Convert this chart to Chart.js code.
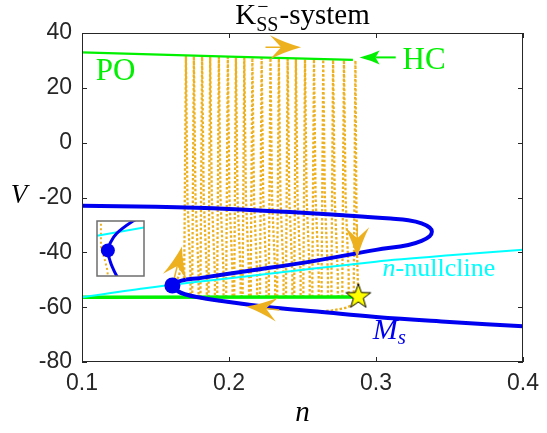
<!DOCTYPE html>
<html lang="en">
<head>
<meta charset="UTF-8">
<title>KSS- system</title>
<script src="https://cdn.jsdelivr.net/npm/chart.js"></script>
<style>
  html, body { margin: 0; padding: 0; background: #fff; }
  #wrap { position: relative; width: 547px; height: 433px; }
  #main { position: absolute; left: 0; top: 0; }
  #inset { position: absolute; left: 96px; top: 220px; }
</style>
</head>
<body>
<div id="wrap">
  <canvas id="main" width="547" height="433"></canvas>
  <canvas id="inset" width="49" height="57"></canvas>
</div>
<script>
// ---- data ----
const xTicks = [0.1, 0.2, 0.3, 0.4];
const yTicks = [-80, -60, -40, -20, 0, 20, 40];

// M_s curve (upper branch -> fold -> middle branch -> knee -> lower branch)
const msN = [0.100, 0.150, 0.200, 0.250, 0.290, 0.310, 0.322, 0.331, 0.3365, 0.338, 0.3365, 0.331, 0.322, 0.300,
             0.2574, 0.2126, 0.1800, 0.1677, 0.1615, 0.1650, 0.1700, 0.1800, 0.1902, 0.2126, 0.2349, 0.2600, 0.3000, 0.3500, 0.4000];
const msV = [-23.0, -23.4, -24.2, -25.6, -26.9, -27.7, -28.3, -29.4, -31.0, -32.5, -34.1, -35.8, -37.3, -39.1,
             -43.2, -46.8, -49.4, -50.3, -52.1, -54.1, -55.3, -56.5, -57.4, -59.0, -60.4, -61.6, -63.6, -65.4, -67.0];

// n-nullcline
const nullN = [0.100, 0.1454, 0.2126, 0.300, 0.350, 0.400];
const nullV = [-56.4, -52.9, -48.7, -43.4, -41.1, -39.1];

// periodic orbit max / min
const poMaxN = [0.100, 0.200, 0.2843];
const poMaxV = [32.9, 31.4, 30.2];
const poMinN = [0.100, 0.288];
const poMinV = [-56.4, -56.3];

// equilibrium (saddle-node) and star
const eqN = [0.1615];
const eqV = [-52.1];
const starN = [0.2880];
const starV = [-56.2];

// bursting trajectory: one entry per spike
const spikeN = [0.1707, 0.1761, 0.1817, 0.1872, 0.1931, 0.1992, 0.2047, 0.2104, 0.2159, 0.2222,
                0.2282, 0.2339, 0.2399, 0.2455, 0.2517, 0.2578, 0.2641, 0.2708, 0.2782, 0.2860];
const topV   = [31.6, 31.5, 31.4, 31.4, 31.3, 31.2, 31.1, 31.0, 30.9, 30.8,
                30.8, 30.7, 30.6, 30.5, 30.4, 30.4, 30.3, 30.2, 30.1, 30.0];
const upN    = [0.1695, 0.1750, 0.1806, 0.1861, 0.1920, 0.1981, 0.2036, 0.2093, 0.2148, 0.2211,
                0.2271, 0.2328, 0.2388, 0.2444, 0.2506, 0.2567, 0.2630, 0.2697, 0.2771, 0.2849];
const midN   = [0.1717, 0.1772, 0.1828, 0.1883, 0.1942, 0.2003, 0.2058, 0.2115, 0.2170, 0.2233,
                0.2293, 0.2350, 0.2410, 0.2466, 0.2528, 0.2589, 0.2652, 0.2719, 0.2793, 0.2866];
const downN  = [0.1738, 0.1793, 0.1849, 0.1904, 0.1963, 0.2024, 0.2079, 0.2136, 0.2191, 0.2254,
                0.2314, 0.2371, 0.2431, 0.2487, 0.2549, 0.2610, 0.2673, 0.2740, 0.2814, 0.2872];
const footV = -56.0, threshV = -50.0, midV = -20.0, bendV = -48.0;
// quiet phase along the lower branch before the first spike
const headN = [0.2550, 0.2349, 0.2126, 0.1902, 0.1800, 0.1700, 0.1650, 0.1625, 0.1660, 0.1685];
const headV = [-61.5, -60.6, -59.2, -57.6, -56.7, -55.4, -54.2, -52.6, -48.5, -42.0];
// drop after the last spike
const tailN = [0.2872, 0.2876, 0.2880, 0.2860, 0.2800, 0.2700, 0.2600, 0.2550];
const tailV = [-42.0, -50.0, -56.0, -58.6, -60.2, -61.2, -61.7, -61.5];

// direction arrows (tail -> tip)
const arrFromN = [0.2248, 0.2872, 0.1626, 0.2342];
const arrFromV = [34.8, -30.0, -49.8, -61.0];
const arrToN   = [0.2490, 0.2872, 0.1680, 0.2116];
const arrToV   = [34.8, -42.2, -37.9, -59.8];

// inset (zoom around the knee)
const inMsN = [0.1668, 0.16515, 0.16236, 0.16124, 0.16085, 0.16124, 0.16179, 0.16236, 0.1628];
const inMsV = [-48.5, -49.0, -50.35, -51.42, -52.21, -53.39, -54.28, -55.0, -55.5];
const inNullN = [0.159, 0.167];
const inNullV = [-50.61, -49.71];
const inTrajN = [0.15967, 0.15967, 0.16006, 0.1604, 0.16073, 0.1609];
const inTrajV = [-48.8, -51.79, -52.68, -53.39, -54.28, -55.2];
const inEqN = [0.16085];
const inEqV = [-52.21];

const BLUE = 'rgb(0,0,240)';
const CYAN = '#00ffff';
const GREEN = '#00f000';
const ORANGE = '#EDB120';
const AXIS = '#262626';

function pts(ns, vs) { return ns.map((n, i) => ({ x: n, y: vs[i] })); }

const trajPts = pts(headN, headV);
for (let k = 0; k < spikeN.length; k++) {
    if (k > 0) trajPts.push({ x: upN[k], y: footV });
    trajPts.push({ x: upN[k], y: threshV });
    trajPts.push({ x: spikeN[k], y: topV[k] });
    trajPts.push({ x: midN[k], y: midV });
    if (k < spikeN.length - 1) {
        trajPts.push({ x: downN[k], y: bendV });
        trajPts.push({ x: downN[k], y: footV });
    }
}
tailN.forEach((n, i) => trajPts.push({ x: n, y: tailV[i] }));

function makeStar(r) {
    const c = document.createElement('canvas');
    const s = Math.ceil(2 * r + 4);
    c.width = s; c.height = s;
    const g = c.getContext('2d');
    g.translate(s / 2, s / 2);
    g.beginPath();
    for (let i = 0; i < 10; i++) {
        const rr = i % 2 ? r * 0.4 : r;
        const a = -Math.PI / 2 + i * Math.PI / 5;
        g.lineTo(rr * Math.cos(a), rr * Math.sin(a));
    }
    g.closePath();
    g.fillStyle = '#ffff00'; g.fill();
    g.lineWidth = 1; g.strokeStyle = '#000'; g.stroke();
    return c;
}

function drawArrow(ctx, fx, fy, tx, ty, L, W, back, color, shaftW) {
    const ang = Math.atan2(ty - fy, tx - fx);
    const len = Math.hypot(tx - fx, ty - fy);
    ctx.save();
    ctx.translate(tx, ty);
    ctx.rotate(ang);
    ctx.strokeStyle = color;
    ctx.lineWidth = shaftW;
    ctx.beginPath(); ctx.moveTo(-len, 0); ctx.lineTo(-L + back, 0); ctx.stroke();
    ctx.fillStyle = color;
    ctx.beginPath();
    ctx.moveTo(0, 0);
    ctx.quadraticCurveTo(-L * 0.55, -W * 0.4, -L, -W);
    ctx.lineTo(-L + back, 0);
    ctx.lineTo(-L, W);
    ctx.quadraticCurveTo(-L * 0.55, W * 0.4, 0, 0);
    ctx.fill();
    ctx.restore();
}

function text(ctx, s, x, y, font, color) {
    ctx.font = font;
    ctx.fillStyle = color;
    ctx.fillText(s, x, y);
    return ctx.measureText(s).width;
}

const decor = {
    id: 'decor',
    afterDatasetDraw(chart, args) {
        if (chart.data.datasets[args.index].label !== 'Ms') return;
        const { ctx, scales: { x, y } } = chart;
        for (let i = 0; i < arrToN.length; i++) {
            drawArrow(ctx, x.getPixelForValue(arrFromN[i]), y.getPixelForValue(arrFromV[i]),
                x.getPixelForValue(arrToN[i]), y.getPixelForValue(arrToV[i]), 31, 12, 11, ORANGE, 1.5);
        }
    },
    afterDraw(chart) {
        const { ctx, chartArea: a, scales: { x, y } } = chart;
        ctx.save();
        // box with inward ticks
        ctx.strokeStyle = AXIS;
        ctx.lineWidth = 1;
        ctx.strokeRect(a.left + 0.5, a.top + 0.5, a.right - a.left - 1, a.bottom - a.top - 1);
        ctx.beginPath();
        xTicks.forEach(v => {
            const px = Math.round(x.getPixelForValue(v)) + 0.5;
            ctx.moveTo(px, a.bottom); ctx.lineTo(px, a.bottom - 5);
            ctx.moveTo(px, a.top); ctx.lineTo(px, a.top + 5);
        });
        yTicks.forEach(v => {
            const py = Math.round(y.getPixelForValue(v)) + 0.5;
            ctx.moveTo(a.left, py); ctx.lineTo(a.left + 5, py);
            ctx.moveTo(a.right, py); ctx.lineTo(a.right - 5, py);
        });
        ctx.stroke();

        ctx.textAlign = 'left';
        ctx.textBaseline = 'alphabetic';
        // title: K_SS^- -system
        const cx = (a.left + a.right) / 2;
        ctx.font = '29px "Liberation Serif"';
        const wK = ctx.measureText('K').width;
        const wRest = ctx.measureText('-system').width;
        ctx.font = '20px "Liberation Serif"';
        const wS = ctx.measureText('SS').width;
        let sx = cx - (wK + wS + wRest + 1) / 2;
        text(ctx, 'K', sx, 24, '29px "Liberation Serif"', '#000');
        text(ctx, 'SS', sx + wK, 31, '20px "Liberation Serif"', '#000');
        text(ctx, '\u2212', sx + wK + 1, 13, '20px "Liberation Serif"', '#000');
        text(ctx, '-system', sx + wK + wS + 1, 24, '29px "Liberation Serif"', '#000');

        // axis labels
        ctx.textAlign = 'center';
        ctx.textBaseline = 'middle';
        text(ctx, 'V', 19, (a.top + a.bottom) / 2 - 2, 'italic 27px "Liberation Serif"', '#000');
        ctx.textBaseline = 'alphabetic';
        text(ctx, 'n', cx, 421, 'italic 29px "Liberation Serif"', '#000');
        ctx.textAlign = 'left';

        // annotations
        text(ctx, 'PO', x.getPixelForValue(0.1094), y.getPixelForValue(22.9), '31px "Liberation Serif"', GREEN);
        text(ctx, 'HC', x.getPixelForValue(0.3181), y.getPixelForValue(26.8), '31px "Liberation Serif"', GREEN);
        drawArrow(ctx, x.getPixelForValue(0.3134), y.getPixelForValue(31.1),
            x.getPixelForValue(0.2888), y.getPixelForValue(31.1), 20, 7, 4, GREEN, 2);

        let nx = x.getPixelForValue(0.3045), ny = y.getPixelForValue(-48.6);
        nx += text(ctx, 'n', nx, ny, 'italic 26px "Liberation Serif"', CYAN);
        text(ctx, '-nullcline', nx, ny, '26px "Liberation Serif"', CYAN);

        let mx = x.getPixelForValue(0.2978), my = y.getPixelForValue(-71.7);
        mx += text(ctx, 'M', mx, my, 'italic 30px "Liberation Serif"', BLUE);
        text(ctx, 's', mx, my + 5, 'italic 21px "Liberation Serif"', BLUE);
        ctx.restore();
    }
};

new Chart(document.getElementById('main'), {
    type: 'scatter',
    data: {
        datasets: [
            { label: 'star', data: pts(starN, starV), pointStyle: makeStar(13), pointRadius: 13, order: 0 },
            { label: 'eq', data: pts(eqN, eqV), pointRadius: 8, backgroundColor: BLUE, borderColor: BLUE, borderWidth: 0, order: 1 },
            { label: 'Ms', data: pts(msN, msV), showLine: true, borderColor: BLUE, borderWidth: 4, pointRadius: 0, tension: 0.4, order: 3 },
            { label: 'nullcline', data: pts(nullN, nullV), showLine: true, borderColor: CYAN, borderWidth: 2, pointRadius: 0, tension: 0.3, order: 4 },
            { label: 'PO max', data: pts(poMaxN, poMaxV), showLine: true, borderColor: GREEN, borderWidth: 2.2, pointRadius: 0, order: 5 },
            { label: 'PO min', data: pts(poMinN, poMinV), showLine: true, borderColor: GREEN, borderWidth: 3.5, pointRadius: 0, order: 5 },
            { label: 'trajectory', data: trajPts, showLine: true, borderColor: ORANGE, borderWidth: 2.3, borderDash: [2.5, 2], pointRadius: 0, tension: 0, order: 9 }
        ]
    },
    options: {
        responsive: false,
        animation: false,
        events: [],
        layout: { autoPadding: false, padding: { left: 0, top: 33, right: 18, bottom: 0 } },
        plugins: { legend: { display: false }, tooltip: { enabled: false } },
        scales: {
            x: {
                type: 'linear', min: 0.1, max: 0.4,
                grid: { display: false, drawTicks: false },
                border: { display: false },
                afterBuildTicks: s => { s.ticks = xTicks.map(v => ({ value: v })); },
                afterFit: s => { s.height = 71; },
                ticks: { color: AXIS, padding: 8, font: { family: '"Liberation Sans"', size: 23 }, maxRotation: 0,
                         callback: v => v.toFixed(1) }
            },
            y: {
                type: 'linear', min: -80, max: 40,
                grid: { display: false, drawTicks: false },
                border: { display: false },
                afterBuildTicks: s => { s.ticks = yTicks.map(v => ({ value: v })); },
                afterFit: s => { s.width = 82; },
                ticks: { color: AXIS, padding: 10, font: { family: '"Liberation Sans"', size: 23 },
                         callback: v => String(v) }
            }
        }
    },
    plugins: [decor]
});

// inset axes
const insetBox = {
    id: 'insetBox',
    beforeDraw(chart) {
        const { ctx, chartArea: a } = chart;
        ctx.save(); ctx.fillStyle = '#fff';
        ctx.fillRect(a.left, a.top, a.right - a.left, a.bottom - a.top);
        ctx.restore();
    },
    afterDraw(chart) {
        const { ctx, chartArea: a } = chart;
        ctx.save(); ctx.strokeStyle = '#6e6e6e'; ctx.lineWidth = 1.5;
        ctx.strokeRect(a.left, a.top, a.right - a.left, a.bottom - a.top);
        ctx.restore();
    }
};

new Chart(document.getElementById('inset'), {
    type: 'scatter',
    data: {
        datasets: [
            { label: 'eq', data: pts(inEqN, inEqV), pointRadius: 7, backgroundColor: BLUE, borderColor: BLUE, borderWidth: 0, order: 0 },
            { label: 'Ms', data: pts(inMsN, inMsV), showLine: true, borderColor: BLUE, borderWidth: 3, pointRadius: 0, tension: 0.4, order: 1 },
            { label: 'nullcline', data: pts(inNullN, inNullV), showLine: true, borderColor: CYAN, borderWidth: 2, pointRadius: 0, order: 2 },
            { label: 'trajectory', data: pts(inTrajN, inTrajV), showLine: true, borderColor: ORANGE, borderWidth: 2, borderDash: [2, 2.5], pointRadius: 0, order: 3 }
        ]
    },
    options: {
        responsive: false,
        animation: false,
        events: [],
        layout: { autoPadding: false, padding: 1 },
        plugins: { legend: { display: false }, tooltip: { enabled: false } },
        scales: {
            x: { type: 'linear', min: 0.159, max: 0.167, display: false },
            y: { type: 'linear', min: -55, max: -49, display: false }
        }
    },
    plugins: [insetBox]
});
</script>
</body>
</html>
